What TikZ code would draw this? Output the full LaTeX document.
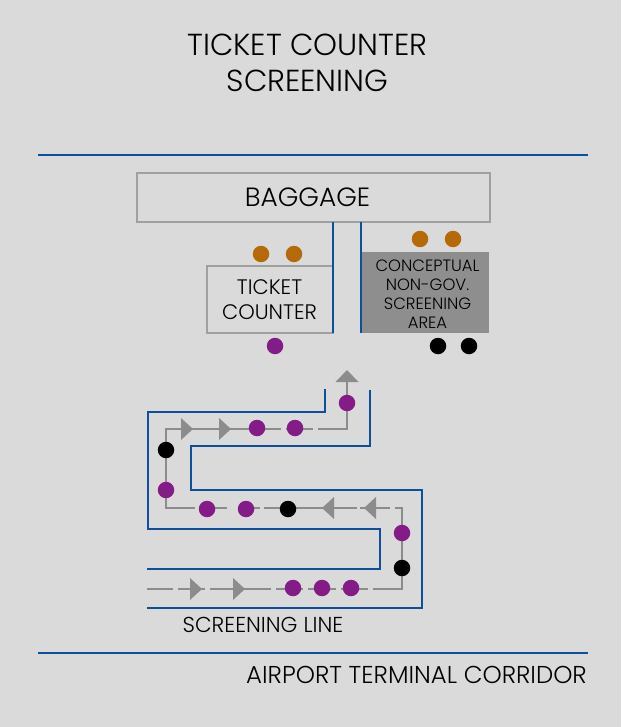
\documentclass[tikz,border=0pt]{standalone}
\usepackage{fontspec}
\setmainfont{Poppins Light}
\definecolor{bgc}{HTML}{DADADA}
\definecolor{wall}{HTML}{0F4F99}
\definecolor{lineg}{HTML}{8C8C8C}
\definecolor{boxg}{HTML}{A0A0A0}
\definecolor{fillg}{HTML}{8E8E8E}
\definecolor{dotp}{HTML}{841C87}
\definecolor{doto}{HTML}{B56A08}
\definecolor{txt}{HTML}{000000}
\tikzset{
  wallline/.style={draw=wall,line width=2pt,line join=miter},
  flow/.style={draw=lineg,line width=1.7pt},
  flowhead/.style={fill=lineg,draw=none},
  dotbase/.style={circle,draw=none,minimum size=16.5pt,inner sep=0pt},
  pd/.style={dotbase,fill=dotp},
  od/.style={dotbase,fill=doto},
  kd/.style={dotbase,fill=black},
  lightbox/.style={draw=boxg,line width=2pt,fill=none,outer sep=0pt,inner sep=0pt},
  lab/.style={text=txt,inner sep=0pt,align=center}
}
\newcommand{\fs}[1]{\fontsize{#1}{#1}\selectfont}
\newcommand{\headR}[2]{\fill[flowhead] (#1-0,#2-11) -- (#1+12,#2) -- (#1,#2+11) -- cycle;}
\newcommand{\headL}[2]{\fill[flowhead] (#1,#2-11) -- (#1-12,#2) -- (#1,#2+11) -- cycle;}
\begin{document}
\begin{tikzpicture}[x=1pt,y=-1pt]
\useasboundingbox (0,0) rectangle (621,727);
\fill[bgc] (0,0) rectangle (621,727);
% corridor lines
\coordinate (t1) at (38,155); \coordinate (t2) at (588,155);
\coordinate (b1) at (38,653); \coordinate (b2) at (588,653);
\draw[wallline] (t1) -- (t2);
\draw[wallline] (b1) -- (b2);
% title
\node[lab] (title1) at (307.5,45) {\fs{30.4}TICKET COUNTER};
\node[lab] (title2) at (307.5,81) {\fs{30.4}SCREENING};
% boxes
\node[lightbox,minimum width=353pt,minimum height=49pt,anchor=north west] (bag) at (137,173) {};
\node[lab] (bagt) at (307.5,197) {\fs{26.4}BAGGAGE};
\node[lightbox,minimum width=126pt,minimum height=67pt,anchor=north west] (tc) at (207,266) {};
\node[lab] (tc1) at (269.5,287) {\fs{21}TICKET};
\node[lab] (tc2) at (269.5,312) {\fs{21}COUNTER};
\node[fill=fillg,draw=none,minimum width=128pt,minimum height=81pt,anchor=north west,inner sep=0pt,outer sep=0pt] (cn) at (361,252) {};
\node[lab] (c1) at (427.5,265.5) {\fs{16.4}CONCEPTUAL};
\node[lab] (c2) at (427.5,285) {\fs{16.4}NON-GOV.};
\node[lab] (c3) at (427.5,304) {\fs{16.4}SCREENING};
\node[lab] (c4) at (427.5,323) {\fs{16.4}AREA};
% partitions
\draw[wallline] (333,222) -- (333,333);
\draw[wallline] (361,222) -- (361,333);
% queue walls
\draw[wallline] (325,389) -- (325,411.5) -- (148,411.5) -- (148,529) -- (380,529) -- (380,569) -- (147,569);
\draw[wallline] (370,390) -- (370,446) -- (191,446) -- (191,490) -- (422,490) -- (422,608) -- (147,608);
% flow line segments
\draw[flow] (147,589) -- (173,589);
\draw[flow] (178,589) -- (205,589);
\draw[flow] (210,589) -- (271,589);
\draw[flow] (276,589) -- (303,589);
\draw[flow] (308,589) -- (336,589);
\draw[flow] (341,589) -- (368,589);
\draw[flow] (373,589) -- (402,589) -- (402,508) -- (395,508);
\draw[flow] (390,508) -- (360,508);
\draw[flow] (357,508) -- (264,508);
\draw[flow] (260,508) -- (238,508);
\draw[flow] (227,508) -- (207,508);
\draw[flow] (195,508) -- (166,508) -- (166,429) -- (281,429);
\draw[flow] (286,429) -- (313,429);
\draw[flow] (318,429) -- (347,429) -- (347,380);
% arrowheads
\headR{181}{429} \headR{219}{429}
\headL{334}{508} \headL{376}{508}
\headR{190}{589} \headR{233}{589}
\fill[flowhead] (335.5,382) -- (347,370) -- (358.5,382) -- cycle;
% people
\node[od] (o1) at (261,254) {}; \node[od] (o2) at (294,254) {};
\node[od] (o3) at (420,239) {}; \node[od] (o4) at (453,239) {};
\node[pd] (p1) at (275,346) {};
\node[kd] (k1) at (438,346) {}; \node[kd] (k2) at (469,346) {};
\node[pd] (p2) at (347,403) {};
\node[pd] (p3) at (257,428) {}; \node[pd] (p4) at (295,428) {};
\node[kd] (k3) at (166,450) {};
\node[pd] (p5) at (166,490) {};
\node[pd] (p6) at (207,509) {}; \node[pd] (p7) at (246,509) {};
\node[kd] (k4) at (288,509) {};
\node[pd] (p8) at (402,533) {};
\node[kd] (k5) at (402,568) {};
\node[pd] (p9) at (293,588) {}; \node[pd] (p10) at (322,588) {}; \node[pd] (p11) at (351,588) {};
% labels
\node[lab] (sl) at (263,625) {\fs{21.6}SCREENING LINE};
\node[lab,anchor=east] (atc) at (587,675) {\fs{24.4}AIRPORT TERMINAL CORRIDOR};
\end{tikzpicture}
\end{document}
